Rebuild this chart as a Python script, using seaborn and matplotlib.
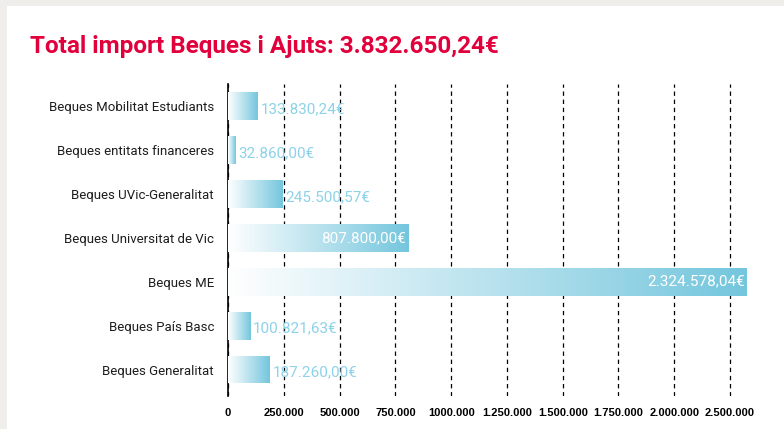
import numpy as np
import pandas as pd
import matplotlib.pyplot as plt
import seaborn as sns
from matplotlib.colors import LinearSegmentedColormap
from matplotlib.patches import Rectangle

categories = ["Beques Mobilitat Estudiants", "Beques entitats financeres", "Beques UVic-Generalitat",
              "Beques Universitat de Vic", "Beques ME", "Beques País Basc", "Beques Generalitat"]
imports = [133830.24, 32860.00, 245500.57, 807800.00, 2324578.04, 100821.63, 187260.00]
value_labels = ["133.830,24€", "32.860,00€", "245.500,57€", "807.800,00€",
                "2.324.578,04€", "100.821,63€", "187.260,00€"]
tick_values = [0, 250000, 500000, 750000, 1000000, 1250000, 1500000, 1750000, 2000000, 2250000]
tick_labels = ["0", "250.000", "500.000", "750.000", "1000.000", "1.250.000",
               "1.500.000", "1.750.000", "2.000.000", "2.500.000"]
title = "Total import Beques i Ajuts: 3.832.650,24€"

df = pd.DataFrame({"cat": categories, "imp": imports})

sns.set_style("white")
plt.rcParams['font.family'] = ['Roboto', 'DejaVu Sans']

fig = plt.figure(figsize=(7.84, 4.29), dpi=100, facecolor='#efeeea')
fig.patches.append(Rectangle((7 / 784, 0), 1, 1 - 6 / 429, transform=fig.transFigure,
                             facecolor='white', edgecolor='none', zorder=-1))

ax = fig.add_axes([228 / 784, 0.077, 540 / 784, 0.727])
ax.set_facecolor('none')

sns.barplot(data=df, x="imp", y="cat", orient="h", width=0.63, color='#7cc9de', ax=ax)

# gradient fill, white -> light blue, clipped to each bar
cmap = LinearSegmentedColormap.from_list("bq", ["#ffffff", "#74c6dd"])
grad = np.linspace(0, 1, 256).reshape(1, -1)
for p in ax.patches:
    x0, y0, w, h = p.get_x(), p.get_y(), p.get_width(), p.get_height()
    p.set_facecolor('none')
    p.set_edgecolor('none')
    im = ax.imshow(grad, extent=[x0, x0 + w, y0 + h, y0], aspect='auto', cmap=cmap, zorder=3)
    im.set_clip_path(p)

for i, (v, lab) in enumerate(zip(imports, value_labels)):
    if v > 500000:
        ax.text(v - 9000, i, lab, ha='right', va='center', color='white', fontsize=11, zorder=4)
    else:
        ax.text(v + 12000, i + 0.07, lab, ha='left', va='center', color='#8dd2e8', fontsize=11, zorder=4)

ax.set_xlim(0, 2420000)
ax.set_ylim(6.6, -0.5)
ax.set_xticks(tick_values)
ax.set_xticklabels(tick_labels, fontsize=8, fontweight='bold', family=['Liberation Sans', 'DejaVu Sans'])
ax.xaxis.grid(True, linestyle=(0, (3.5, 3)), color='black', linewidth=0.9)
ax.yaxis.grid(False)
ax.set_axisbelow(True)
ax.tick_params(axis='x', length=0, pad=9, colors='black')
ax.tick_params(axis='y', length=0, pad=10, labelsize=9.5, colors='#1e1e1e')
ax.set_xlabel("")
ax.set_ylabel("")
for s in ['top', 'right', 'bottom']:
    ax.spines[s].set_visible(False)
ax.spines['left'].set_color('black')
ax.spines['left'].set_linewidth(1.2)

fig.text(30 / 784, 1 - 47 / 429, title, ha='left', va='center', color='#e2003c',
         fontsize=17.5, fontweight='bold', family=['Roboto', 'DejaVu Sans'])

fig.savefig("out.png", dpi=100, facecolor=fig.get_facecolor())
